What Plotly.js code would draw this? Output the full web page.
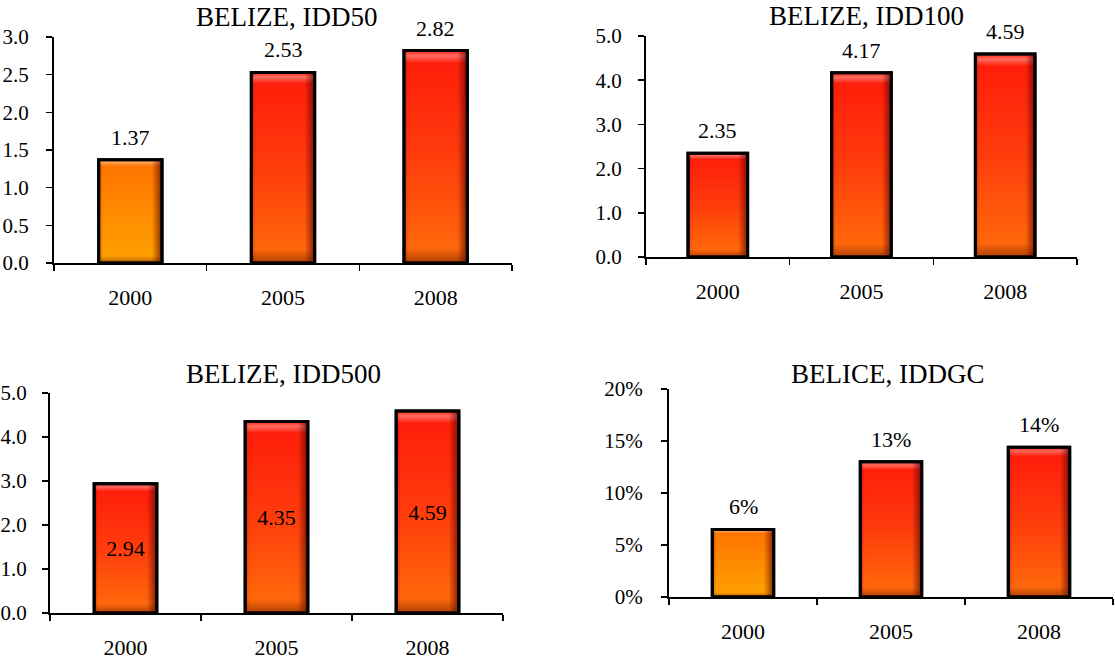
<!DOCTYPE html>
<html><head><meta charset="utf-8">
<script src="https://cdn.plot.ly/plotly-3.0.1.min.js"></script>
<style>html,body{margin:0;padding:0;background:#fff}#chart{width:1115px;height:663px}</style>
</head><body><div id="chart"></div>
<script>
// ---- data ----
const years = ['2000', '2005', '2008'];
const idd50 = [1.37, 2.53, 2.82];
const idd50Labels = ['1.37', '2.53', '2.82'];
const idd100 = [2.35, 4.17, 4.59];
const idd100Labels = ['2.35', '4.17', '4.59'];
const idd500 = [2.94, 4.35, 4.59];
const idd500Labels = ['2.94', '4.35', '4.59'];
const iddgc = [0.065, 0.13, 0.144];
const iddgcLabels = ['6%', '13%', '14%'];
const titles = ['BELIZE, IDD50', 'BELIZE, IDD100', 'BELIZE, IDD500', 'BELICE, IDDGC'];

// ---- layout helpers ----
const W = 1115, H = 663;
const FONT = 'Liberation Serif';
const ORANGE = '#ff8c00', RED = '#ff3c0a';
const dx = (a, b) => [a / W, b / W];
const dy = (t, b) => [(H - b) / H, (H - t) / H];
const py = (p) => (H - p) / H;
const px = (p) => p / W;

function bar(x, y, xa, ya, colors, text) {
  const t = {
    type: 'bar', x: x, y: y, xaxis: xa, yaxis: ya,
    marker: {color: colors, line: {color: '#000', width: 3}},
    hoverinfo: 'none'
  };
  if (text) {
    t.text = text; t.textposition = 'inside'; t.insidetextanchor = 'middle';
    t.constraintext = 'none'; t.textangle = 0;
    t.insidetextfont = {family: FONT, size: 22, color: '#000'};
  }
  return t;
}

const traces = [
  bar(years, idd50, 'x', 'y', [ORANGE, RED, RED]),
  bar(years, idd100, 'x2', 'y2', [RED, RED, RED]),
  bar(years, idd500, 'x3', 'y3', [RED, RED, RED], idd500Labels),
  bar(years, iddgc, 'x4', 'y4', [ORANGE, RED, RED])
];

function xax(dom, anchor) {
  return {domain: dom, anchor: anchor, type: 'category', range: [-0.5, years.length - 0.5],
    showline: true, linecolor: '#000', linewidth: 2,
    ticks: 'outside', tickson: 'boundaries', ticklen: 6, tickwidth: 1.5, tickcolor: '#000',
    showgrid: false, zeroline: false, fixedrange: true, ticklabelstandoff: 14,
    tickfont: {family: FONT, size: 22, color: '#000'}};
}
function yax(dom, anchor, range, dtick, fmt, standoff) {
  return {domain: dom, anchor: anchor, range: range, dtick: dtick, tick0: 0, tickformat: fmt,
    showline: true, linecolor: '#000', linewidth: 2, ticks: 'outside', ticklen: 6, tickwidth: 1.5,
    tickcolor: '#000', showgrid: false, zeroline: false, fixedrange: true, ticklabelstandoff: standoff,
    tickfont: {family: FONT, size: 21, color: '#000'}};
}

const annotations = [];
function addLabels(xa, ya, vals, labels) {
  vals.forEach((v, i) => annotations.push({
    xref: xa, yref: ya, x: i, y: v, text: labels[i], showarrow: false,
    yanchor: 'bottom', yshift: 8, font: {family: FONT, size: 22, color: '#000'}
  }));
}
addLabels('x', 'y', idd50, idd50Labels);
addLabels('x2', 'y2', idd100, idd100Labels);
addLabels('x4', 'y4', iddgc, iddgcLabels);

const titlePos = [[286, 17], [866, 16], [283, 374], [887, 374]];
titles.forEach((t, i) => annotations.push({
  xref: 'paper', yref: 'paper', x: px(titlePos[i][0]), y: py(titlePos[i][1]),
  xanchor: 'center', yanchor: 'middle', text: t, showarrow: false,
  font: {family: FONT, size: 27, color: '#000'}
}));

const layout = {
  width: W, height: H, margin: {l: 0, r: 0, t: 0, b: 0},
  font: {family: FONT},
  paper_bgcolor: '#fff', plot_bgcolor: 'rgba(0,0,0,0)', showlegend: false, bargap: 0.585,
  xaxis: xax(dx(54, 512), 'y'), yaxis: yax(dy(37, 263), 'x', [0, 3], 0.5, '.1f', 13),
  xaxis2: xax(dx(646, 1077), 'y2'), yaxis2: yax(dy(36, 257), 'x2', [0, 5], 1, '.1f', 12),
  xaxis3: xax(dx(50, 503), 'y3'), yaxis3: yax(dy(393, 613), 'x3', [0, 5], 1, '.1f', 11),
  xaxis4: xax(dx(669, 1113), 'y4'), yaxis4: yax(dy(389, 597), 'x4', [0, 0.2], 0.05, '.0%', 14),
  annotations: annotations
};

const NS = 'http://www.w3.org/2000/svg';
function addGrad(defs, id, stops, horizontal) {
  const g = document.createElementNS(NS, 'linearGradient');
  g.setAttribute('id', id);
  g.setAttribute('x1', '0'); g.setAttribute('y1', '0');
  g.setAttribute('x2', horizontal ? '1' : '0'); g.setAttribute('y2', horizontal ? '0' : '1');
  stops.forEach(s => {
    const st = document.createElementNS(NS, 'stop');
    st.setAttribute('offset', s[0]); st.setAttribute('stop-color', s[1]);
    st.setAttribute('stop-opacity', s[2] == null ? 1 : s[2]);
    g.appendChild(st);
  });
  defs.appendChild(g);
}

Plotly.newPlot('chart', traces, layout, {staticPlot: true, displayModeBar: false}).then(gd => {
  const svg = gd.querySelector('.main-svg');
  let defs = svg.querySelector('defs');
  if (!defs) { defs = document.createElementNS(NS, 'defs'); svg.insertBefore(defs, svg.firstChild); }
  addGrad(defs, 'gRed', [[0, '#ff1a0a'], [0.5, '#ff3c0c'], [1, '#ff6e0a']]);
  addGrad(defs, 'gOrg', [[0, '#ff7200'], [1, '#ffa200']]);
  addGrad(defs, 'gSide', [[0, '#5a0000', 0.3], [0.07, '#5a0000', 0], [0.84, '#5a0000', 0], [1, '#4a0000', 0.7]], true);
  addGrad(defs, 'gBot', [[0, '#fff', 0], [0.93, '#5a1000', 0], [1, '#5a1000', 0.5]]);
  addGrad(defs, 'gTop', [[0, '#fff', 0.05], [0.025, '#fff', 0.35], [0.06, '#fff', 0.0], [1, '#fff', 0]]);
  gd.querySelectorAll('.bars .point path').forEach(p => {
    const f = p.style.fill.replace(/\s/g, '');
    const isOrange = f === 'rgb(255,140,0)';
    p.style.fill = isOrange ? 'url(#gOrg)' : 'url(#gRed)';
    const parent = p.parentNode;
    const next = p.nextSibling;
    ['gTop', 'gSide', 'gBot'].forEach(id => {
      const c = p.cloneNode(true);
      c.style.fill = 'url(#' + id + ')'; c.style.stroke = 'none'; c.style.fillOpacity = 1;
      parent.insertBefore(c, next);
    });
    const s = p.cloneNode(true);
    s.style.fill = 'none';
    parent.insertBefore(s, next);
  });
});
</script>
</body></html>
